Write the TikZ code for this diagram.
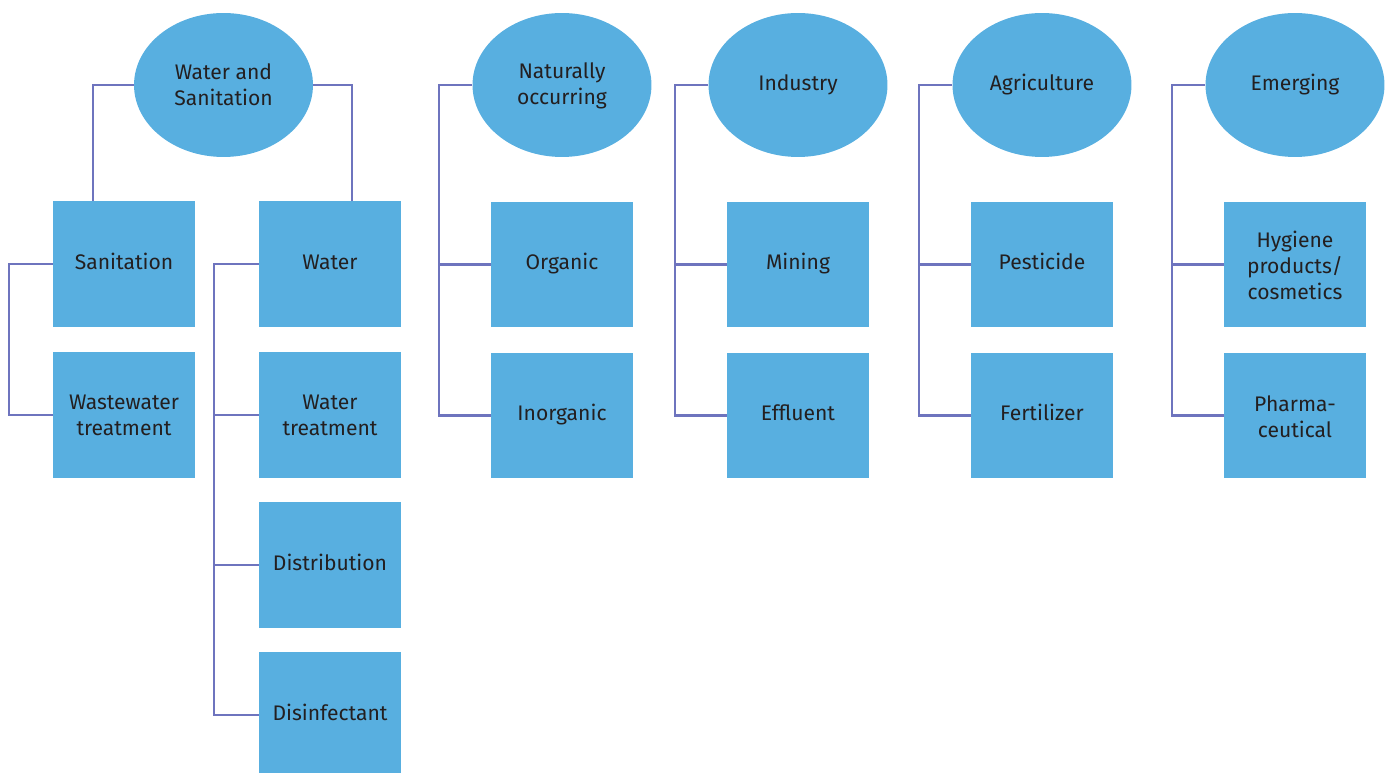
\documentclass[tikz,border=0pt]{standalone}
\usepackage{fontspec}
\setmainfont{Fira Sans}
\usetikzlibrary{shapes.geometric,calc}
\definecolor{boxblue}{HTML}{58AFE0}
\definecolor{linkline}{HTML}{6E74BE}
\definecolor{txtdark}{HTML}{231F20}
\begin{document}
\begin{tikzpicture}[x=0.02cm, y=-0.02cm,
  every node/.style={font=\fontsize{12}{14.8}\selectfont, text=txtdark, align=center},
  cat/.style={ellipse, fill=boxblue, minimum width=3.58cm, minimum height=2.88cm, inner sep=0pt},
  item/.style={rectangle, fill=boxblue, minimum width=2.84cm, minimum height=2.52cm, inner sep=0pt},
  link/.style={draw=linkline, line width=1.2pt}]
\useasboundingbox (0,0) rectangle (1387,773);
% water and sanitation branch
\node[cat] (ws) at (223.5,85) {Water and\\Sanitation};
\node[item] (san) at (124,264) {\strut Sanitation};
\node[item] (wwt) at (124,415) {Wastewater\\treatment};
\node[item] (wat) at (330,264) {\strut Water};
\node[item] (wtr) at (330,415) {Water\\treatment};
\node[item] (dist) at (330,565) {\strut Distribution};
\node[item] (dis) at (330,715) {\strut Disinfectant};
\draw[link] (ws.west) -| ($(san.north west)!0.28!(san.north east)$);
\draw[link] (ws.east) -| ($(wat.north west)!0.655!(wat.north east)$);
\draw[link] (san.west) -- ++(-44,0) |- (wwt.west);
\draw[link] (wat.west) -- ++(-45,0) coordinate (wspine) |- (dis.west);
\foreach \n in {wtr,dist}
  \draw[link] (\n.west) -- (\n.west -| wspine);
% other sources
\foreach \c/\x/\ct/\at/\bt in {nat/562/{Naturally\\occurring}/Organic/Inorganic,
    ind/798/Industry/Mining/Effluent,
    agr/1042/Agriculture/Pesticide/Fertilizer,
    emg/1295/Emerging/{Hygiene\\products/\\cosmetics}/{Pharma-\\ceutical}} {
  \node[cat] (\c) at (\x,85) {\strut\ct};
  \node[item] (\c a) at (\x,264.5) {\strut\at};
  \node[item] (\c b) at (\x,415.5) {\strut\bt};
  \draw[link] (\c.west) -- ++(-33,0) coordinate (\c spine) |- (\c b.west);
  \draw[link] (\c a.west) -- (\c a.west -| \c spine);
}
\end{tikzpicture}
\end{document}
